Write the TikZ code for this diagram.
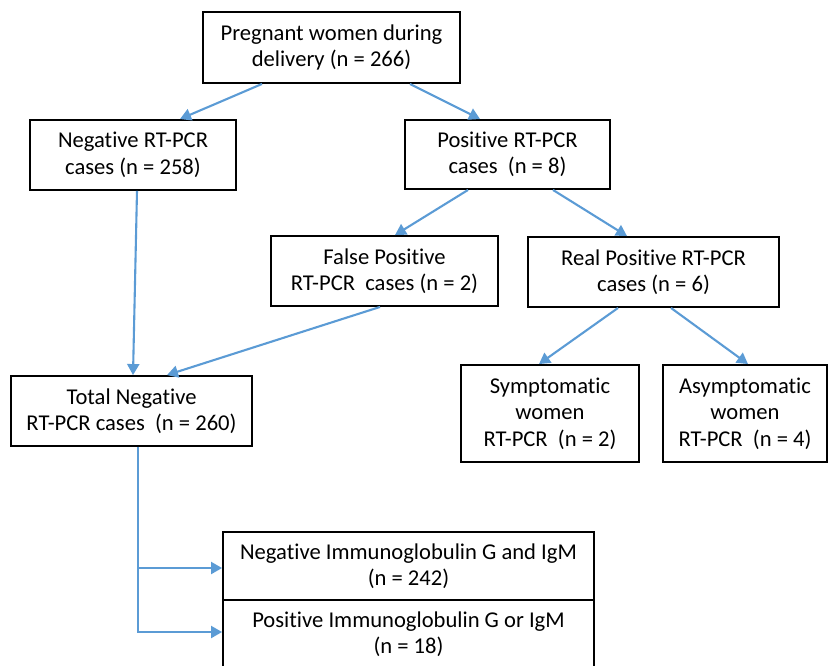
\documentclass[tikz,border=0pt]{standalone}
\usepackage{fontspec}
\setmainfont{Carlito}[Ligatures=NoCommon]
\usetikzlibrary{arrows.meta}
\definecolor{arrowblue}{HTML}{5B9BD5}
\begin{document}
\begin{tikzpicture}[x=1pt,y=-1pt,
  box/.style={draw=black,line width=1.9pt,fill=white,inner sep=0pt,align=center,
    font=\fontsize{22.6}{26.5}\selectfont},
  conn/.style={draw=arrowblue,line width=2.1pt,-{Triangle[length=11pt,width=12pt]}}]
\useasboundingbox (0,0) rectangle (829,665);
\node[box,minimum width=257pt,minimum height=71pt] (top) at (331.5,47.5) {Pregnant women during\\delivery (n = 266)};
\node[box,minimum width=206pt,minimum height=70pt] (neg) at (133,155) {Negative RT-PCR\\cases (n = 258)};
\node[box,minimum width=205pt,minimum height=69pt] (pos) at (507.5,154.5) {Positive RT-PCR\\cases\ \ (n = 8)};
\node[box,minimum width=227pt,minimum height=70pt] (fpos) at (384.5,271) {False Positive\\RT-PCR\ \ cases (n = 2)};
\node[box,minimum width=251pt,minimum height=70pt] (rpos) at (653.5,272) {Real Positive RT-PCR\\cases (n = 6)};
\node[box,minimum width=178pt,minimum height=97pt] (sym) at (550,413.5) {Symptomatic\\women\\RT-PCR\ \ (n = 2)};
\node[box,minimum width=164pt,minimum height=97pt] (asym) at (745,413.5) {Asymptomatic\\women\\RT-PCR\ \ (n = 4)};
\node[box,minimum width=241pt,minimum height=70pt] (tneg) at (131.5,411) {Total Negative\\RT-PCR cases\ \ (n = 260)};
\node[box,minimum width=371pt,minimum height=68pt] (negig) at (408.5,566) {Negative Immunoglobulin G and IgM\\(n = 242)};
\node[box,minimum width=371pt,minimum height=68pt] (posig) at (408.5,634) {Positive Immunoglobulin G or IgM\\(n = 18)};
\draw[conn] ([xshift=-69.5pt]top.south) -- ([xshift=47pt]neg.north);
\draw[conn] ([xshift=78.5pt]top.south) -- ([xshift=-27.5pt]pos.north);
\draw[conn] ([xshift=-39.5pt]pos.south) -- ([xshift=10.5pt]fpos.north);
\draw[conn] ([xshift=45.5pt]pos.south) -- ([xshift=-26.5pt]rpos.north);
\draw[conn] ([xshift=-35.5pt]rpos.south) -- ([xshift=-11pt]sym.north);
\draw[conn] ([xshift=17.5pt]rpos.south) -- ([xshift=3pt]asym.north);
\draw[conn] ([xshift=4pt]neg.south) -- ([xshift=1.5pt]tneg.north);
\draw[conn] ([xshift=-4.5pt]fpos.south) -- ([xshift=35.5pt]tneg.north);
\draw[conn] ([xshift=6.5pt]tneg.south) |- ([yshift=-2pt]negig.west);
\draw[conn] ([xshift=6.5pt]tneg.south) |- ([yshift=2pt]posig.west);
\end{tikzpicture}
\end{document}
